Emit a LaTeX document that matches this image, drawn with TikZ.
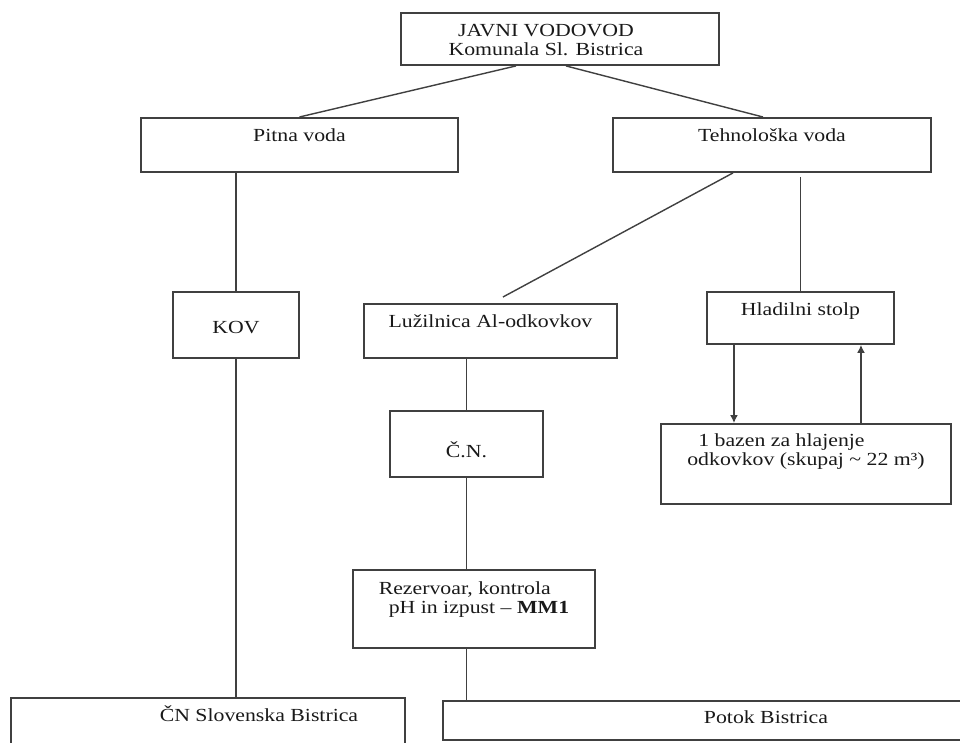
\documentclass[tikz,border=0pt]{standalone}
\usepackage{fontspec}
\setmainfont{Liberation Serif}[FakeStretch=1.18]
\usetikzlibrary{arrows.meta}

\tikzset{
    blok/.style={draw=black!75, line width=1.1pt, anchor=north west, inner sep=0pt, text height=0.48cm, text=black!90},
    vez/.style={draw=black!75, line width=0.8pt}
}

\begin{document}
\begin{tikzpicture}[font=\fontsize{10.5}{11}\selectfont]
        \useasboundingbox (0,0) rectangle (19.2,-14.84);

        \node[blok,minimum width=6.36cm,text height=0.86cm,text depth=0.18cm,align=center] at (8.00,-0.24) (javni) {JAVNI VODOVOD\hspace*{0.56cm}\\Komunala Sl. Bistrica\hspace*{0.56cm}};

        \node[blok,minimum width=6.34cm,text depth=0.60cm] at (2.80,-2.34) (pitna) {Pitna voda};
        \node[blok,minimum width=6.36cm,text depth=0.60cm] at (12.24,-2.34) (tehno) {Tehnološka voda};

        \node[blok,minimum width=2.52cm,text height=0.84cm,text depth=0.48cm] at (3.44,-5.82) (kov) {KOV};
        \node[blok,minimum width=5.06cm,text depth=0.60cm] at (7.26,-6.06) (luz) {Lužilnica Al-odkovkov};
        \node[blok,minimum width=3.74cm,text depth=0.56cm] at (14.12,-5.82) (hlad) {Hladilni stolp};

        \node[blok,minimum width=3.06cm,text height=0.94cm,text depth=0.38cm] at (7.78,-8.20) (cn) {Č.N.};
        \node[blok,minimum width=5.80cm,text height=0.84cm,text depth=0.76cm,align=left] at (13.20,-8.46) (bazen) {\hspace*{0.22cm}1 bazen za hlajenje\\odkovkov (skupaj \textasciitilde{} 22 m³)};

        \node[blok,minimum width=4.84cm,text height=0.88cm,text depth=0.68cm,align=left] at (7.04,-11.38) (rez) {Rezervoar, kontrola\\\hspace*{0.2cm}pH in izpust – \textbf{MM1}};

        \node[blok,minimum width=7.88cm,text depth=0.52cm] at (0.20,-13.94) (cnsb) {\hspace*{2.04cm}ČN Slovenska Bistrica};
        \node[blok,minimum width=12.92cm,text height=0.46cm,text depth=0.32cm] at (8.84,-14.00) (potok) {Potok Bistrica};

        \draw[vez] ([xshift=-0.88cm]javni.south) -- (pitna.north);
        \draw[vez] ([xshift=0.12cm]javni.south) -- ([xshift=-0.18cm]tehno.north);

        \draw[vez] (pitna.south -| kov.north) -- (kov.north);
        \draw[vez] (kov.south) -- (kov.south |- cnsb.north);

        \draw[vez] ([xshift=-0.78cm]tehno.south) -- ([xshift=0.25cm,yshift=0.12cm]luz.north);
        \draw[vez,shorten <=0.08cm] (tehno.south -| hlad.north) -- (hlad.north);

        \draw[vez] (luz.south -| cn.north) -- (cn.north);
        \draw[vez] (cn.south) -- (cn.south |- rez.north);
        \draw[vez] (rez.south -| cn.south) -- (cn.south |- potok.north);

        \draw[vez,-{Latex[length=4.5pt,width=4.5pt]}] ([xshift=-1.33cm]hlad.south) -- ([xshift=-1.33cm]hlad.south |- bazen.north);
        \draw[vez,-{Latex[length=4.5pt,width=4.5pt]}] ([xshift=1.21cm]hlad.south |- bazen.north) -- ([xshift=1.21cm]hlad.south);
\end{tikzpicture}
\end{document}
